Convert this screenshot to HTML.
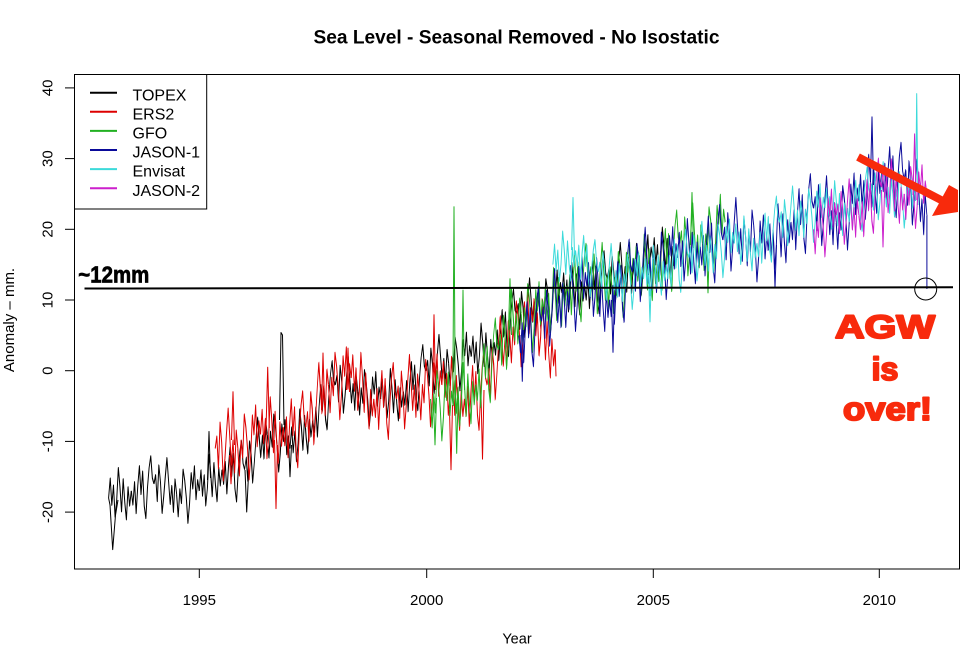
<!DOCTYPE html>
<html><head><meta charset="utf-8">
<style>
html,body{margin:0;padding:0;background:#fff;}
svg{display:block;}
text{font-family:"Liberation Sans",Arial,sans-serif;}
</style></head><body>
<svg width="970" height="653" viewBox="0 0 970 653" xmlns="http://www.w3.org/2000/svg">
<defs>
<clipPath id="c"><rect x="74.5" y="74.5" width="885" height="494.5"/></clipPath>
<path id="A" fill="none" d="M0 0L1.62 -12L3.24 5L4.86 -7L6.48 13L8.1 3L9.72 -17L11.33 -5L12.95 11L14.57 -9L16.19 6L17.81 17L19.43 -3L21.05 9L22.67 0"/>
<path id="B" fill="none" d="M0 0L1.62 9L3.24 -5L4.86 15L6.48 -2L8.1 -14L9.72 4L11.33 -10L12.95 12L14.57 20L16.19 1L17.81 -11L19.43 -18L21.05 -4L22.67 0"/>
<path id="C" fill="none" d="M0 0L1.62 -6L3.24 10L4.86 -13L6.48 -3L8.1 16L9.72 5L11.33 -8L12.95 -20L14.57 -6L16.19 8L17.81 -4L19.43 12L21.05 -9L22.67 0"/>
<path id="D" fill="none" d="M0 0L1.62 14L3.24 -3L4.86 6L6.48 -15L8.1 -8L9.72 3L11.33 19L12.95 7L14.57 -12L16.19 -2L17.81 -16L19.43 5L21.05 -7L22.67 0"/>
</defs>
<rect x="0" y="0" width="970" height="653" fill="#fff"/>

<g clip-path="url(#c)" fill="none" stroke-width="1" stroke-linejoin="round">
<!-- TOPEX -->
<g stroke="#000">
<use href="#A" transform="matrix(1,-0.313,0,1.6,108.6,498.0)"/>
<use href="#B" transform="matrix(1,-0.313,0,1.6,131.3,490.9)"/>
<use href="#C" transform="matrix(1,0.468,0,1.6,154.0,483.8)"/>
<use href="#D" transform="matrix(1,-0.154,0,1.6,176.6,494.4)"/>
<use href="#A" transform="matrix(1,-0.935,0,1.6,199.3,490.9)"/>
<use href="#B" transform="matrix(1,0,0,1.6,222.0,469.7)"/>
<use href="#C" transform="matrix(1,-1.562,0,1.6,244.6,469.7)"/>
<use href="#D" transform="matrix(1,0.626,0,1.6,267.3,434.3)"/>
<use href="#A" transform="matrix(1,-1.248,0,1.6,290.0,448.5)"/>
<use href="#B" transform="matrix(1,-1.562,0,1.6,312.6,420.2)"/>
<use href="#C" transform="matrix(1,0.313,0,1.6,335.3,384.8)"/>
<use href="#D" transform="matrix(1,0.313,0,1.6,358.0,391.9)"/>
<use href="#A" transform="matrix(1,-0.313,0,1.6,380.6,399.0)"/>
<use href="#B" transform="matrix(1,-0.935,0,1.6,403.3,391.9)"/>
<use href="#C" transform="matrix(1,-0.313,0,1.6,426.0,370.7)"/>
<use href="#D" transform="matrix(1,-0.309,0,1.6,448.6,363.6)"/>
<use href="#A" transform="matrix(1,-0.626,0,1.6,471.3,356.6)"/>
<use href="#B" transform="matrix(1,-1.248,0,1.6,494.0,342.4)"/>
<use href="#C" transform="matrix(1,-0.309,0,1.6,516.6,314.1)"/>
<use href="#D" transform="matrix(1,-0.626,0,1.6,539.3,307.1)"/>
<use href="#A" transform="matrix(1,-0.309,0,1.6,562.0,292.9)"/>
<use href="#B" transform="matrix(1,-0.313,0,1.6,584.6,285.9)"/>
<use href="#C" transform="matrix(1,-0.313,0,1.6,607.3,278.8)"/>
<use href="#D" transform="matrix(1,-0.622,0,1.6,630.0,271.7)"/>
<use href="#A" transform="matrix(1,-0.313,0,1.6,652.6,257.6)"/>
<path d="M108.6 498 L110 505 L112.7 549.6 L115.5 515 L118 500"/>
<path d="M279.5 420 L281 332.5 L282.5 335 L284 425"/>
<path d="M245 470 L246.7 512 L248.5 475"/>
<path d="M207.5 480 L209 431.5 L210.5 478"/>
<path d="M288.5 440 L290 476.7 L291.5 445"/>
</g>
<!-- ERS2 -->
<g stroke="#dd0000">
<use href="#C" transform="matrix(1,0,0,2,215.2,448.5)"/>
<use href="#D" transform="matrix(1,-0.626,0,2,237.8,448.5)"/>
<use href="#A" transform="matrix(1,-0.309,0,2,260.5,434.3)"/>
<use href="#B" transform="matrix(1,0,0,2,283.2,427.3)"/>
<use href="#C" transform="matrix(1,-1.875,0,2,305.8,427.3)"/>
<use href="#D" transform="matrix(1,-0.309,0,2,328.5,384.8)"/>
<use href="#A" transform="matrix(1,0.935,0,2,351.2,377.8)"/>
<use href="#B" transform="matrix(1,0,0,2,373.8,399.0)"/>
<use href="#C" transform="matrix(1,-0.313,0,2,396.5,399.0)"/>
<use href="#D" transform="matrix(1,-0.313,0,2,419.2,391.9)"/>
<use href="#A" transform="matrix(1,0.626,0,2,441.8,384.8)"/>
<use href="#B" transform="matrix(1,-0.626,0,2,464.5,399.0)"/>
<use href="#C" transform="matrix(1,-2.179,0,2,487.2,384.8)"/>
<use href="#D" transform="matrix(1,-0.626,0,2,509.8,335.4)"/>
<use href="#A" transform="matrix(1,1.248,0,2,532.5,321.2)"/>
<path d="M555.2 349.5 L556 376.4"/>
<path d="M274.5 440 L276 508.6 L277.5 445"/>
<path d="M449.5 410 L451 469.7 L452.5 405"/>
<path d="M481 395 L482.5 459.1 L484 390"/>
<path d="M266 430 L267.7 367.2 L269.3 428"/>
<path d="M321.5 410 L323 353 L324.5 405"/>
<path d="M346.5 390 L348 348.1 L349.5 392"/>
<path d="M432.5 395 L434 314.8 L435.5 390"/>
<path d="M229.5 455 L231 483.8 L232.5 458"/>
<path d="M231.5 440 L233 391.7 L234.5 445"/>
</g>
<!-- GFO -->
<g stroke="#22b022">
<use href="#D" transform="matrix(1,0.313,0,2,430.5,399.0)"/>
<use href="#A" transform="matrix(1,-0.940,0,2,453.2,406.1)"/>
<use href="#B" transform="matrix(1,-1.557,0,2,475.8,384.8)"/>
<use href="#C" transform="matrix(1,-1.562,0,2,498.5,349.5)"/>
<use href="#D" transform="matrix(1,0,0,2,521.2,314.1)"/>
<use href="#A" transform="matrix(1,-1.244,0,2,543.8,314.1)"/>
<use href="#B" transform="matrix(1,-0.313,0,2,566.5,285.9)"/>
<use href="#C" transform="matrix(1,0.313,0,2,589.2,278.8)"/>
<use href="#D" transform="matrix(1,-0.626,0,2,611.8,285.9)"/>
<use href="#A" transform="matrix(1,-0.313,0,2,634.5,271.7)"/>
<use href="#B" transform="matrix(1,-0.935,0,2,657.2,264.6)"/>
<use href="#C" transform="matrix(1,0,0,2,679.8,243.4)"/>
<use href="#D" transform="matrix(1,-0.935,0,2,702.5,243.4)"/>
<path d="M452.8 400 L454 206.7 L455.3 405"/>
<path d="M433.5 400 L435 444.9 L436.5 398"/>
<path d="M455.5 405 L456.7 453.4 L458 400"/>
<path d="M461.5 395 L463 290.1 L464.5 390"/>
<path d="M508.5 330 L510 278.8 L511.5 335"/>
<path d="M690.5 245 L692 192.5 L693.5 248"/>
<path d="M706.5 245 L708 292.9 L709.5 240"/>
</g>
<!-- JASON-1 -->
<g stroke="#0a0a9a">
<use href="#B" transform="matrix(1,-0.622,0,2,518.9,335.3)"/>
<use href="#C" transform="matrix(1,-0.935,0,2,541.6,321.2)"/>
<use href="#D" transform="matrix(1,-0.622,0,2,564.2,300.0)"/>
<use href="#A" transform="matrix(1,0.622,0,2,586.9,285.9)"/>
<use href="#B" transform="matrix(1,-1.248,0,2,609.6,300.0)"/>
<use href="#C" transform="matrix(1,-0.313,0,2,632.2,271.7)"/>
<use href="#D" transform="matrix(1,-0.309,0,2,654.9,264.6)"/>
<use href="#A" transform="matrix(1,-0.468,0,2,677.6,257.6)"/>
<use href="#B" transform="matrix(1,-0.313,0,2,700.2,247.0)"/>
<use href="#C" transform="matrix(1,-0.154,0,2,722.9,239.9)"/>
<use href="#D" transform="matrix(1,0.622,0,2,745.6,236.4)"/>
<use href="#A" transform="matrix(1,-1.248,0,2,768.2,250.5)"/>
<use href="#B" transform="matrix(1,-0.622,0,2,790.9,222.2)"/>
<use href="#C" transform="matrix(1,0.622,0,2,813.6,208.1)"/>
<use href="#D" transform="matrix(1,-0.935,0,2,836.2,222.2)"/>
<use href="#A" transform="matrix(1,-1.248,0,2,858.9,201.0)"/>
<use href="#B" transform="matrix(1,0.313,0,2,881.6,172.7)"/>
<use href="#C" transform="matrix(1,1.562,0,2,904.2,179.8)"/>
<path d="M926.9 215.2 L926.9 289"/>
<path d="M611.5 300 L613 352.3 L614.5 295"/>
<path d="M773.5 240 L775 287.3 L776.5 245"/>
<path d="M870.5 180 L872 116.9 L873.5 185"/>
<path d="M521 335 L522.3 381.3 L523.6 330"/>
</g>
<!-- Envisat -->
<g stroke="#3cdada">
<use href="#A" transform="matrix(1,-0.622,0,1.6,552.9,264.6)"/>
<use href="#B" transform="matrix(1,0.935,0,1.6,575.6,250.5)"/>
<use href="#C" transform="matrix(1,0.313,0,1.6,598.2,271.7)"/>
<use href="#D" transform="matrix(1,0,0,1.6,620.9,278.8)"/>
<use href="#A" transform="matrix(1,-0.626,0,1.6,643.6,278.8)"/>
<use href="#B" transform="matrix(1,-0.309,0,1.6,666.2,264.6)"/>
<use href="#C" transform="matrix(1,-0.313,0,1.6,688.9,257.6)"/>
<use href="#D" transform="matrix(1,-0.313,0,1.6,711.6,250.5)"/>
<use href="#A" transform="matrix(1,0,0,1.6,734.2,243.4)"/>
<use href="#B" transform="matrix(1,-0.935,0,1.6,756.9,243.4)"/>
<use href="#C" transform="matrix(1,-0.309,0,1.6,779.6,222.2)"/>
<use href="#D" transform="matrix(1,-0.313,0,1.6,802.2,215.2)"/>
<use href="#A" transform="matrix(1,0,0,1.6,824.9,208.1)"/>
<use href="#B" transform="matrix(1,-0.626,0,1.6,847.6,208.1)"/>
<use href="#C" transform="matrix(1,0,0,1.6,870.2,193.9)"/>
<use href="#D" transform="matrix(1,0.313,0,1.6,892.9,193.9)"/>
<path d="M915.6 201 L916.7 93.6 L918 205"/>
<path d="M571.5 250 L573 197.5 L574.5 255"/>
<path d="M648.5 275 L650 321.9 L651.5 272"/>
</g>
<!-- JASON-2 -->
<g stroke="#cc1fcc">
<use href="#D" transform="matrix(1,-0.622,0,1.8,813.6,229.3)"/>
<use href="#C" transform="matrix(1,0,0,1.8,836.2,215.2)"/>
<use href="#B" transform="matrix(1,-1.248,0,1.8,858.9,215.2)"/>
<use href="#A" transform="matrix(1,0.309,0,1.8,881.6,186.9)"/>
<use href="#D" transform="matrix(1,0,0,1.8,904.2,193.9)"/>
<path d="M881.5 190 L883 247 L884.5 192"/>
<path d="M913 195 L914.6 133.9 L916.2 200"/>
</g>
</g>

<!-- frame -->
<rect x="74.5" y="74.5" width="885" height="494.5" fill="none" stroke="#000" stroke-width="1"/>

<!-- x ticks -->
<g stroke="#000" stroke-width="1">
<line x1="199.3" y1="569" x2="199.3" y2="578"/>
<line x1="426.7" y1="569" x2="426.7" y2="578"/>
<line x1="653.3" y1="569" x2="653.3" y2="578"/>
<line x1="879.3" y1="569" x2="879.3" y2="578"/>
</g>
<g font-size="15" text-anchor="middle" fill="#000">
<text x="199.3" y="605">1995</text>
<text x="426.7" y="605">2000</text>
<text x="653.3" y="605">2005</text>
<text x="879.3" y="605">2010</text>
</g>

<!-- y ticks -->
<g stroke="#000" stroke-width="1">
<line x1="65" y1="512.1" x2="74.5" y2="512.1"/>
<line x1="65" y1="441.4" x2="74.5" y2="441.4"/>
<line x1="65" y1="370.7" x2="74.5" y2="370.7"/>
<line x1="65" y1="300" x2="74.5" y2="300"/>
<line x1="65" y1="229.3" x2="74.5" y2="229.3"/>
<line x1="65" y1="158.6" x2="74.5" y2="158.6"/>
<line x1="65" y1="87.9" x2="74.5" y2="87.9"/>
</g>
<g font-size="15" text-anchor="middle" fill="#000">
<text transform="translate(52.5,512.1) rotate(-90)">-20</text>
<text transform="translate(52.5,441.4) rotate(-90)">-10</text>
<text transform="translate(52.5,370.7) rotate(-90)">0</text>
<text transform="translate(52.5,300) rotate(-90)">10</text>
<text transform="translate(52.5,229.3) rotate(-90)">20</text>
<text transform="translate(52.5,158.6) rotate(-90)">30</text>
<text transform="translate(52.5,87.9) rotate(-90)">40</text>
</g>

<!-- axis labels & title -->
<text x="313.5" y="43.5" font-size="19" font-weight="bold" textLength="406" lengthAdjust="spacingAndGlyphs" fill="#000">Sea Level - Seasonal Removed - No Isostatic</text>
<text x="517" y="643.5" font-size="14.5" text-anchor="middle" fill="#000">Year</text>
<text transform="translate(14,320) rotate(-90)" font-size="15" text-anchor="middle" fill="#000">Anomaly – mm.</text>

<!-- legend -->
<rect x="74.5" y="74.5" width="132.2" height="134.5" fill="#fff" stroke="#000" stroke-width="1"/>
<g stroke-width="2">
<line x1="90" y1="92.7" x2="117" y2="92.7" stroke="#000"/>
<line x1="90" y1="111.8" x2="117" y2="111.8" stroke="#dd0000"/>
<line x1="90" y1="130.9" x2="117" y2="130.9" stroke="#22b022"/>
<line x1="90" y1="150" x2="117" y2="150" stroke="#0a0a9a"/>
<line x1="90" y1="169.1" x2="117" y2="169.1" stroke="#3cdada"/>
<line x1="90" y1="188.2" x2="117" y2="188.2" stroke="#cc1fcc"/>
</g>
<g font-size="16" fill="#000">
<text x="132.5" y="100.3">TOPEX</text>
<text x="132.5" y="119.4">ERS2</text>
<text x="132.5" y="138.5">GFO</text>
<text x="132.5" y="157.6">JASON-1</text>
<text x="132.5" y="176.7">Envisat</text>
<text x="132.5" y="195.8">JASON-2</text>
</g>

<!-- annotations -->
<line x1="84.5" y1="288.5" x2="953" y2="287.3" stroke="#000" stroke-width="2"/>
<text x="78.3" y="282.7" font-size="23" font-weight="bold" textLength="71" lengthAdjust="spacingAndGlyphs" style="font-family:'Liberation Sans Narrow','Liberation Sans',sans-serif" fill="#000" stroke="#000" stroke-width="0.7">~12mm</text>
<circle cx="925.7" cy="289" r="11" fill="none" stroke="#000" stroke-width="1"/>

<line x1="858" y1="157" x2="942" y2="200.5" stroke="#f82a0c" stroke-width="8"/>
<polygon points="949,185 958,190 958,212 932,216" fill="#f82a0c"/>
<g fill="#f82a0c" stroke="#f82a0c" stroke-width="2" font-size="32" font-weight="bold" stroke-linejoin="round">
<text x="835" y="338" textLength="100" lengthAdjust="spacingAndGlyphs">AGW</text>
<text x="885" y="380" text-anchor="middle">is</text>
<text x="843" y="420" textLength="89" lengthAdjust="spacingAndGlyphs">over!</text>
</g>
</svg>
</body></html>
